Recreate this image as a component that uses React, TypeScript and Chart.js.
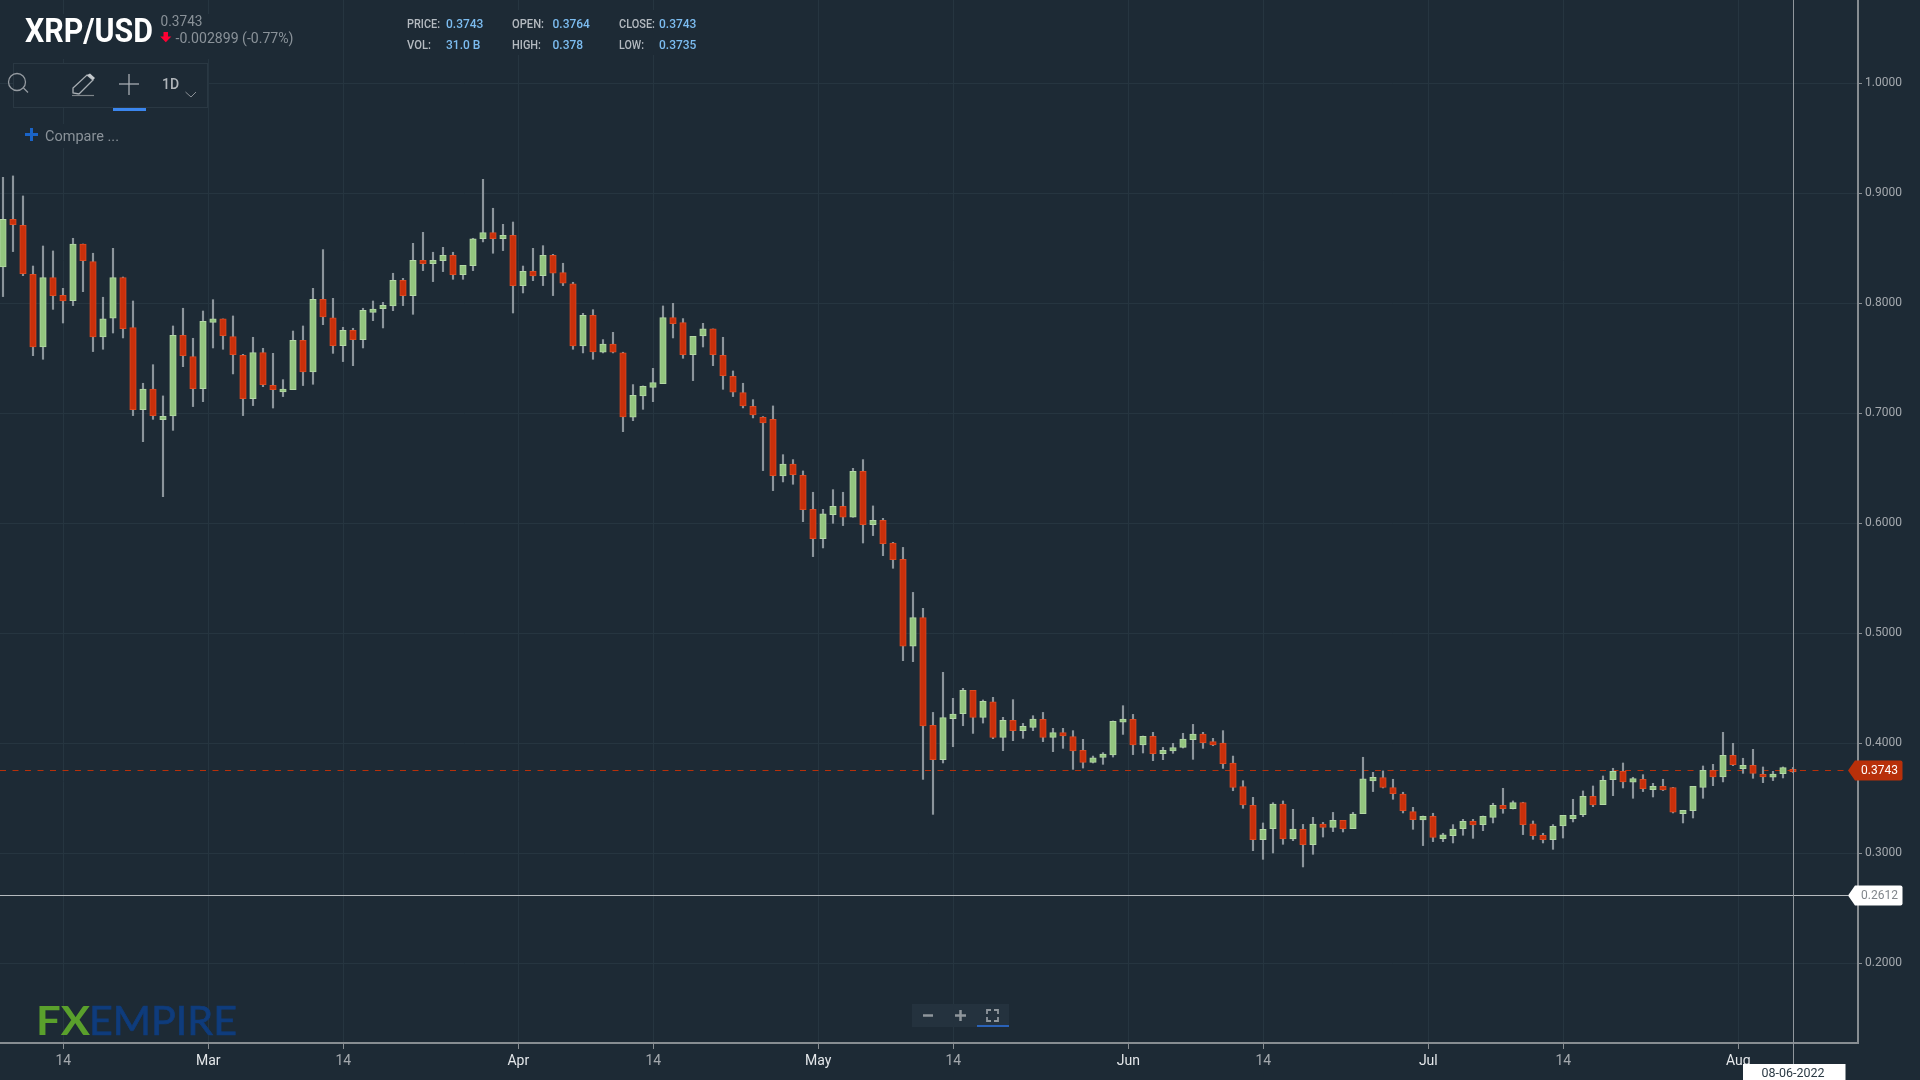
import React, { useEffect, useRef } from "react";
import { Chart, registerables } from "chart.js";

Chart.register(...registerables);

const opens = [
  .8330,.8764,.8709,.8264,.7603,.8233,.8073,.8024,.8539,.8379,
  .7694,.7864,.8233,.7779,.7033,.7221,.6942,.6976,.7709,.7515,
  .7224,.7827,.7858,.7697,.7527,.7133,.7551,.7255,.7194,.7215,
  .7664,.7376,.8036,.7867,.7615,.7755,.7670,.7918,.7952,.7976,
  .8209,.8070,.8391,.8361,.8388,.8436,.8261,.8342,.8588,.8642,
  .8588,.8618,.8161,.8291,.8251,.8436,.8279,.8176,.7612,.7891,
  .7555,.7630,.7549,.6964,.7158,.7236,.7270,.7870,.7824,.7533,
  .7703,.7767,.7527,.7336,.7188,.7064,.6964,.6945,.6430,.6539,
  .6436,.6127,.5861,.6079,.6155,.6055,.6473,.5988,.6027,.5821,
  .5672,.4884,.5142,.4163,.3851,.4224,.4269,.4481,.4236,.4378,
  .4054,.4209,.4115,.4145,.4218,.4054,.4097,.4060,.3936,.3827,
  .3872,.3894,.4191,.4218,.3985,.4063,.3906,.3930,.3963,.4033,
  .4084,.4015,.4003,.3821,.3606,.3436,.3124,.3224,.3448,.3130,
  .3218,.3078,.3266,.3236,.3300,.3224,.3361,.3658,.3688,.3597,
  .3539,.3379,.3303,.3336,.3133,.3161,.3224,.3291,.3261,.3327,
  .3436,.3406,.3461,.3267,.3164,.3124,.3249,.3315,.3352,.3518,
  .3442,.3670,.3746,.3646,.3673,.3579,.3609,.3597,.3361,.3388,
  .3600,.3755,.3694,.3891,.3770,.3800,.3718,.3691,.3724,.3764,
];
const closes = [
  .8764,.8715,.8270,.7603,.8233,.8070,.8021,.8539,.8388,.7694,
  .7858,.8233,.7770,.7033,.7221,.6979,.6973,.7709,.7524,.7224,
  .7836,.7858,.7706,.7533,.7133,.7551,.7261,.7215,.7221,.7664,
  .7376,.8036,.7876,.7615,.7755,.7670,.7936,.7948,.7982,.8209,
  .8070,.8391,.8361,.8391,.8436,.8261,.8345,.8585,.8642,.8588,
  .8618,.8161,.8291,.8248,.8436,.8273,.8182,.7612,.7891,.7558,
  .7630,.7555,.6967,.7164,.7245,.7279,.7870,.7815,.7533,.7700,
  .7767,.7533,.7342,.7191,.7067,.6985,.6912,.6433,.6539,.6442,
  .6124,.5861,.6085,.6155,.6055,.6473,.5988,.6027,.5815,.5670,
  .4884,.5142,.4157,.3851,.4233,.4266,.4481,.4236,.4381,.4054,
  .4209,.4115,.4154,.4221,.4054,.4097,.4066,.3930,.3827,.3869,
  .3903,.4200,.4221,.3985,.4063,.3906,.3936,.3960,.4039,.4084,
  .4006,.3985,.3815,.3600,.3439,.3124,.3218,.3448,.3130,.3221,
  .3078,.3266,.3236,.3300,.3224,.3357,.3676,.3691,.3600,.3543,
  .3388,.3306,.3336,.3145,.3167,.3221,.3291,.3258,.3336,.3436,
  .3406,.3461,.3261,.3161,.3124,.3246,.3345,.3345,.3518,.3439,
  .3664,.3746,.3649,.3679,.3588,.3609,.3576,.3373,.3391,.3609,
  .3755,.3694,.3891,.3806,.3800,.3727,.3694,.3721,.3779,.3743,
];
const highs = [
  .9145,.9158,.8976,.8339,.8521,.8476,.8136,.8591,.8539,.8455,
  .8055,.8500,.8239,.8021,.7273,.7442,.7158,.7794,.7955,.7682,
  .7930,.8033,.7858,.7885,.7536,.7691,.7591,.7545,.7306,.7748,
  .7794,.8136,.8488,.8045,.7782,.7773,.7955,.8021,.8009,.8273,
  .8227,.8545,.8645,.8464,.8509,.8464,.8345,.8591,.9127,.8864,
  .8718,.8739,.8339,.8500,.8524,.8445,.8364,.8191,.7909,.7942,
  .7670,.7736,.7555,.7261,.7249,.7409,.7976,.8000,.7861,.7700,
  .7818,.7767,.7691,.7385,.7273,.7124,.6970,.7067,.6624,.6579,
  .6476,.6282,.6127,.6306,.6282,.6500,.6579,.6158,.6045,.5827,
  .5781,.5372,.5227,.4281,.4645,.4409,.4500,.4481,.4394,.4418,
  .4236,.4397,.4181,.4251,.4281,.4136,.4136,.4115,.4036,.3884,
  .3915,.4203,.4342,.4263,.4066,.4100,.3963,.4000,.4091,.4172,
  .4100,.4045,.4115,.3884,.3660,.3509,.3276,.3460,.3476,.3400,
  .3263,.3327,.3281,.3372,.3300,.3372,.3873,.3736,.3749,.3673,
  .3555,.3418,.3339,.3364,.3182,.3261,.3309,.3309,.3339,.3455,
  .3591,.3476,.3464,.3294,.3182,.3261,.3345,.3491,.3567,.3612,
  .3703,.3773,.3821,.3691,.3715,.3636,.3673,.3600,.3391,.3609,
  .3794,.3809,.4100,.4000,.3864,.3945,.3785,.3745,.3785,.3780,
];
const lows = [
  .8061,.8470,.8251,.7524,.7491,.7945,.7821,.7979,.8106,.7561,
  .7582,.7730,.7685,.6979,.6742,.6945,.6242,.6845,.7424,.7061,
  .7106,.7594,.7582,.7358,.6979,.7070,.7242,.7048,.7152,.7215,
  .7252,.7264,.7806,.7545,.7470,.7433,.7594,.7842,.7776,.7933,
  .7979,.7900,.8297,.8197,.8288,.8218,.8218,.8297,.8558,.8455,
  .8479,.7912,.8094,.8206,.8161,.8070,.8161,.7582,.7549,.7491,
  .7549,.7549,.6833,.6933,.7036,.7106,.7270,.7685,.7500,.7297,
  .7603,.7433,.7218,.7152,.7049,.6958,.6479,.6297,.6376,.6355,
  .6015,.5697,.5776,.6000,.5979,.6055,.5821,.5888,.5706,.5591,
  .4751,.4742,.3672,.3354,.3821,.3969,.4160,.4090,.4184,.4042,
  .3933,.4024,.4045,.4115,.4015,.3924,.3954,.3763,.3775,.3821,
  .3809,.3875,.4081,.3897,.3912,.3842,.3851,.3909,.3957,.3854,
  .3954,.3978,.3772,.3569,.3409,.3024,.2945,.3003,.3082,.3115,
  .2876,.2991,.3148,.3197,.3194,.3224,.3361,.3561,.3594,.3491,
  .3367,.3218,.3070,.3106,.3106,.3094,.3164,.3136,.3206,.3276,
  .3364,.3403,.3170,.3127,.3094,.3036,.3139,.3285,.3333,.3424,
  .3442,.3524,.3594,.3500,.3561,.3512,.3570,.3367,.3276,.3321,
  .3500,.3615,.3649,.3797,.3727,.3682,.3642,.3661,.3685,.3735,
];

const xTickPositions = [6.03, 20.53, 34.03, 51.53, 65.03, 81.53, 95.03, 112.53, 126.03, 142.53, 156.03, 173.53];
const xTickLabels = ["14", "Mar", "14", "Apr", "14", "May", "14", "Jun", "14", "Jul", "14", "Aug"];
const yTickValues = [0.2, 0.3, 0.4, 0.5, 0.6, 0.7, 0.8, 0.9, 1.0];

const lastPrice = 0.3743;
const markerPrice = 0.2612;
const crosshairIndex = 179;

const BG = "#1d2a35";
const GRID = "#263540";
const AXIS = "#878d92";
const UP = "#93c57f";
const UP_EDGE = "#b3d8a4";
const DOWN = "#c9300b";
const DOWN_EDGE = "#dc4a22";
const WICK = "#8b949b";

function tag(ctx: CanvasRenderingContext2D, y: number, fill: string, text: string, color: string) {
  const tip = 1848, l = 1855, r = 1902.5, h = 10;
  ctx.save();
  ctx.fillStyle = fill;
  ctx.beginPath();
  ctx.moveTo(tip, y);
  ctx.lineTo(l, y - h);
  ctx.lineTo(r - 2, y - h);
  ctx.quadraticCurveTo(r, y - h, r, y - h + 2);
  ctx.lineTo(r, y + h - 2);
  ctx.quadraticCurveTo(r, y + h, r - 2, y + h);
  ctx.lineTo(l, y + h);
  ctx.closePath();
  ctx.fill();
  ctx.fillStyle = color;
  ctx.font = "12px Roboto";
  ctx.textAlign = "left";
  ctx.textBaseline = "middle";
  ctx.fillText(text, 1861, y + 0.5);
  ctx.restore();
}

const crispY = (p: number) => Math.floor(p - 0.9) + 0.5;

const linesPlugin = {
  id: "priceLines",
  beforeDatasetsDraw(chart: any) {
    const { ctx, scales } = chart;
    const x0 = scales.x.getPixelForValue(-0.3);
    const x1 = scales.x.getPixelForValue(184.5);
    ctx.save();
    ctx.lineWidth = 1;
    ctx.strokeStyle = "#b8300a";
    ctx.setLineDash([6, 6.5]);
    const py = crispY(scales.y.getPixelForValue(lastPrice));
    ctx.beginPath();
    ctx.moveTo(x0, py);
    ctx.lineTo(x1, py);
    ctx.stroke();
    ctx.setLineDash([]);
    ctx.strokeStyle = "#b5babe";
    const my = crispY(scales.y.getPixelForValue(markerPrice));
    ctx.beginPath();
    ctx.moveTo(x0, my);
    ctx.lineTo(x1, my);
    ctx.stroke();
    ctx.restore();
  },
  afterDraw(chart: any) {
    const { ctx, scales } = chart;
    const cx = Math.round(scales.x.getPixelForValue(crosshairIndex)) + 0.5;
    ctx.save();
    ctx.strokeStyle = "#8f969c";
    ctx.lineWidth = 1;
    ctx.beginPath();
    ctx.moveTo(cx, 0);
    ctx.lineTo(cx, 1064);
    ctx.stroke();
    ctx.restore();
    tag(ctx, crispY(scales.y.getPixelForValue(lastPrice)), "#b8300a", lastPrice.toFixed(4), "#ffffff");
    tag(ctx, crispY(scales.y.getPixelForValue(markerPrice)), "#ffffff", markerPrice.toFixed(4), "#80868b");
  },
};

function Overlay() {
  const f = "Roboto, sans-serif";
  return (
    <svg width={1920} height={1080} style={{ position: "absolute", left: 0, top: 0 }}>
      <rect x={20} y={14} width={280} height={45} fill={BG} />
      <rect x={400} y={10} width={310} height={45} fill={BG} />
      <rect x={20} y={124} width={110} height={24} fill={BG} />
      <text x={25} y={41.5} fontFamily={f} fontWeight={700} fontSize={34} fill="#ffffff" textLength={128} lengthAdjust="spacingAndGlyphs">XRP/USD</text>
      <text x={160.5} y={26} fontFamily={f} fontSize={14} fill="#8a9299" textLength={42} lengthAdjust="spacingAndGlyphs">0.3743</text>
      <path d="M163.5 32 h4.5 v4.5 h3.4 l-5.6 5.8 l-5.6 -5.8 h3.3 z" fill="#ff0033" />
      <text x={175.5} y={42.5} fontFamily={f} fontSize={14} fill="#8a9299" textLength={118} lengthAdjust="spacingAndGlyphs">-0.002899 (-0.77%)</text>

      <g fontFamily={f} fontSize={12} fontWeight={500}>
        <g fill="#b4bac0">
          <text x={407} y={27.5} textLength={33} lengthAdjust="spacingAndGlyphs">PRICE:</text>
          <text x={512} y={27.5} textLength={32} lengthAdjust="spacingAndGlyphs">OPEN:</text>
          <text x={619} y={27.5} textLength={36} lengthAdjust="spacingAndGlyphs">CLOSE:</text>
          <text x={407} y={48.5} textLength={24} lengthAdjust="spacingAndGlyphs">VOL:</text>
          <text x={512} y={48.5} textLength={29} lengthAdjust="spacingAndGlyphs">HIGH:</text>
          <text x={619} y={48.5} textLength={25} lengthAdjust="spacingAndGlyphs">LOW:</text>
        </g>
        <g fill="#7cbcf0">
          <text x={446} y={27.5}>0.3743</text>
          <text x={552.5} y={27.5}>0.3764</text>
          <text x={659} y={27.5}>0.3743</text>
          <text x={446} y={48.5}>31.0 B</text>
          <text x={552.5} y={48.5}>0.378</text>
          <text x={659} y={48.5}>0.3735</text>
        </g>
      </g>

      <rect x={13.5} y={63.5} width={194} height={44} fill={BG} stroke="#2a3843" strokeWidth={1} />
      <circle cx={17} cy={82} r={8.5} fill="none" stroke="#959ba1" strokeWidth={1.3} />
      <line x1={23.5} y1={88} x2={28} y2={92.5} stroke="#959ba1" strokeWidth={1.3} />
      <path d="M73 93 L73 88 L87 75 L93 80 L79 94 Z" fill="none" stroke="#a8aeb3" strokeWidth={1.3} />
      <path d="M87 75 L90 73.5 L95 78 L93 80 Z" fill="#c4c9cd" />
      <line x1={72} y1={95.5} x2={94} y2={95.5} stroke="#7d8489" strokeWidth={1.2} />
      <line x1={119} y1={84} x2={139} y2={84} stroke="#a8aeb3" strokeWidth={1.3} />
      <line x1={129} y1={74} x2={129} y2={95} stroke="#a8aeb3" strokeWidth={1.3} />
      <rect x={113} y={108} width={33} height={3} fill="#3b86ee" />
      <text x={162} y={89} fontFamily={f} fontSize={14} fontWeight={500} fill="#b0b5ba">1D</text>
      <path d="M185.5 92 L191 97 L196 92" fill="none" stroke="#8a9096" strokeWidth={1} />

      <path d="M25 134.5 H38 M31.5 128 V141" stroke="#1a64c8" strokeWidth={3} fill="none" />
      <text x={45} y={141} fontFamily={f} fontSize={14} fill="#8a9299" textLength={74} lengthAdjust="spacingAndGlyphs">Compare ...</text>

      <text x={36} y={1034.5} fontFamily="Lato, sans-serif" fontWeight={700} fontSize={40} fill="#5aa02c" textLength={54} lengthAdjust="spacingAndGlyphs">FX</text>
      <text x={89} y={1034.5} fontFamily="Lato, sans-serif" fontWeight={400} fontSize={40} fill="#0f3c7c" stroke="#0f3c7c" strokeWidth={0.7} textLength={148} lengthAdjust="spacingAndGlyphs">EMPIRE</text>

      <rect x={912} y={1004} width={97} height={23} fill="#24323e" />
      <rect x={977} y={1025} width={32} height={2} fill="#2a62b8" />
      <path d="M923 1015.5 H933 M955 1015.5 H966 M960.5 1010 V1021" stroke="#8f969c" strokeWidth={2.5} fill="none" />
      <path d="M987 1014 V1010 H991 M994 1010 H998 V1014 M998 1017 V1021 H994 M991 1021 H987 V1017" stroke="#8f969c" strokeWidth={1.8} fill="none" />

      <rect x={1743} y={1064} width={102.5} height={16} fill="#ffffff" />
      <text x={1761.5} y={1076.5} fontFamily={f} fontSize={12} fill="#2b3a45" textLength={63} lengthAdjust="spacingAndGlyphs">08-06-2022</text>
    </svg>
  );
}

const noPadding = (s: any) => {
  s.paddingLeft = 0;
  s.paddingRight = 0;
  s.paddingTop = 0;
  s.paddingBottom = 0;
};

export default function App() {
  const ref = useRef<HTMLCanvasElement | null>(null);

  useEffect(() => {
    document.body.style.margin = "0";
    document.body.style.background = BG;
    const idx = opens.map((_, i) => i);
    const chart = new Chart(ref.current as HTMLCanvasElement, {
      type: "bar",
      data: {
        datasets: [
          {
            type: "bar",
            data: idx.map((i) => ({ x: i, y: [lows[i], highs[i]] })),
            backgroundColor: WICK,
            borderWidth: 0,
            barThickness: 1.5,
            grouped: false,
            order: 3,
          },
          {
            type: "bar",
            data: idx.map((i) => ({ x: i, y: [opens[i], closes[i]] })),
            backgroundColor: (c: any) => (closes[c.dataIndex] >= opens[c.dataIndex] ? UP : DOWN),
            borderColor: (c: any) => (closes[c.dataIndex] >= opens[c.dataIndex] ? UP_EDGE : DOWN_EDGE),
            borderWidth: 1,
            borderSkipped: false,
            barThickness: 6.5,
            grouped: false,
            order: 2,
          },
        ],
      } as any,
      options: {
        responsive: false,
        devicePixelRatio: 1,
        animation: false,
        layout: { padding: 0 },
        plugins: { legend: { display: false }, tooltip: { enabled: false } },
        scales: {
          x: {
            type: "linear",
            offset: false,
            min: -0.3,
            max: 185.5,
            afterFit: (s: any) => { s.height = 37; noPadding(s); },
            afterBuildTicks: (s: any) => { s.ticks = xTickPositions.map((value) => ({ value })); },
            border: { color: AXIS, width: 2 },
            grid: { offset: false, color: GRID, lineWidth: 1, tickColor: AXIS, tickLength: 6 },
            ticks: {
              autoSkip: false,
              maxRotation: 0,
              padding: 4,
              font: { family: "Roboto", size: 14 },
              color: (c: any) => (c.index % 2 === 1 ? "#e4e7ea" : "#a4a9ae"),
              callback: (_v: any, i: number) => xTickLabels[i],
            },
          },
          y: {
            type: "linear",
            position: "right",
            min: 0.12755,
            max: 1.07573,
            afterFit: (s: any) => { s.width = 62; noPadding(s); },
            afterBuildTicks: (s: any) => { s.ticks = yTickValues.map((value) => ({ value })); },
            border: { color: AXIS, width: 2 },
            grid: { color: GRID, lineWidth: 1, tickColor: AXIS, tickLength: 4 },
            ticks: {
              autoSkip: false,
              padding: 3,
              font: { family: "Roboto", size: 12 },
              color: "#a4a9ae",
              callback: (v: any) => Number(v).toFixed(4),
            },
          },
        },
      },
      plugins: [linesPlugin],
    } as any);
    return () => chart.destroy();
  }, []);

  return (
    <div style={{ position: "fixed", left: 0, top: 0, width: 1920, height: 1080, overflow: "hidden", background: BG }}>
      <canvas ref={ref} width={1920} height={1080} style={{ display: "block", width: 1920, height: 1080 }} />
      <Overlay />
    </div>
  );
}
